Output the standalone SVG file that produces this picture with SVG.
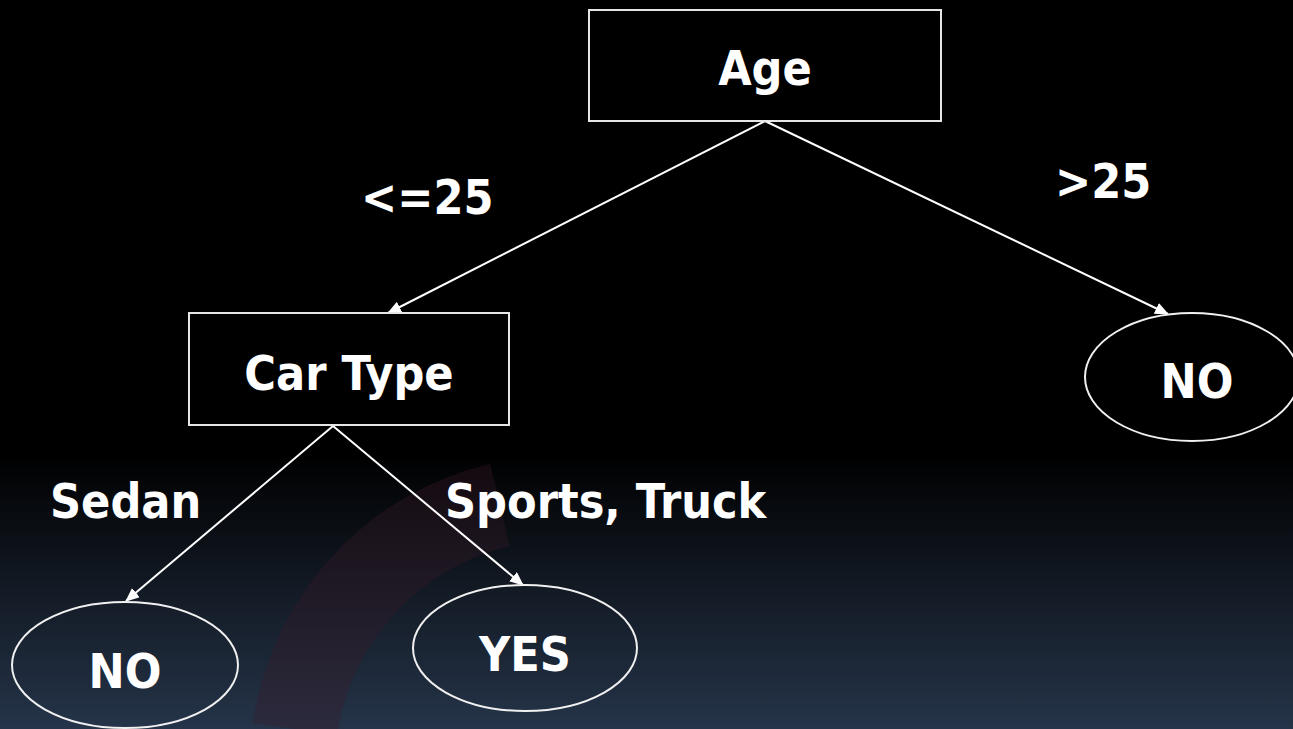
<svg xmlns="http://www.w3.org/2000/svg" width="1293" height="729" viewBox="0 0 1293 729">
<defs>
<linearGradient id="bg" x1="0" y1="0" x2="0" y2="1">
<stop offset="0" stop-color="#000000"/>
<stop offset="0.62" stop-color="#000000"/>
<stop offset="1" stop-color="#253449"/>
</linearGradient>
<marker id="ah" viewBox="0 0 14 12" refX="13" refY="6" markerWidth="14" markerHeight="12" markerUnits="userSpaceOnUse" orient="auto">
<path d="M0,0 L14,6 L0,12 Z" fill="#ffffff"/>
</marker>
<style>
.box{fill:#000;stroke:#e6e6e6;stroke-width:2}
.ell{fill:none;stroke:#f0f0f0;stroke-width:2}
.t{font-family:"DejaVu Sans Condensed","DejaVu Sans",sans-serif;font-weight:bold;font-size:48px;fill:#ffffff;text-anchor:middle}
.lbl{font-family:"DejaVu Sans Condensed","DejaVu Sans",sans-serif;font-weight:bold;font-size:48px;fill:#ffffff}
.c{fill:none;stroke:#ffffff;stroke-width:2;marker-end:url(#ah)}
</style>
</defs>
<rect width="1293" height="729" fill="url(#bg)"/>
<path d="M295,729 A270,270 0 0 1 500,505" fill="none" stroke="#3a1a28" stroke-opacity="0.35" stroke-width="85"/>
<g id="connectors">
<line class="c" x1="765" y1="121" x2="388" y2="313"/>
<line class="c" x1="765" y1="121" x2="1168" y2="314"/>
<line class="c" x1="333" y1="426" x2="126" y2="601"/>
<line class="c" x1="333" y1="426" x2="523" y2="585"/>
</g>
<g id="age">
<rect class="box" x="589" y="10" width="352" height="111"/>
<text class="t" x="765" y="85">Age</text>
</g>
<g id="cartype">
<rect class="box" x="189" y="313" width="320" height="112"/>
<text class="t" x="349" y="390">Car Type</text>
</g>
<g id="no-right">
<ellipse class="ell" cx="1192" cy="377" rx="107" ry="64"/>
<text class="t" x="1197" y="398">NO</text>
</g>
<g id="no-left">
<ellipse class="ell" cx="125" cy="665" rx="113" ry="63"/>
<text class="t" x="125" y="688">NO</text>
</g>
<g id="yes">
<ellipse class="ell" cx="525" cy="648" rx="112" ry="63"/>
<text class="t" x="525" y="671">YES</text>
</g>
<g id="labels">
<text class="lbl" x="361" y="214">&lt;=25</text>
<text class="lbl" x="1055" y="198">&gt;25</text>
<text class="lbl" x="50" y="518">Sedan</text>
<text class="lbl" x="445" y="518">Sports, Truck</text>
</g>
</svg>
